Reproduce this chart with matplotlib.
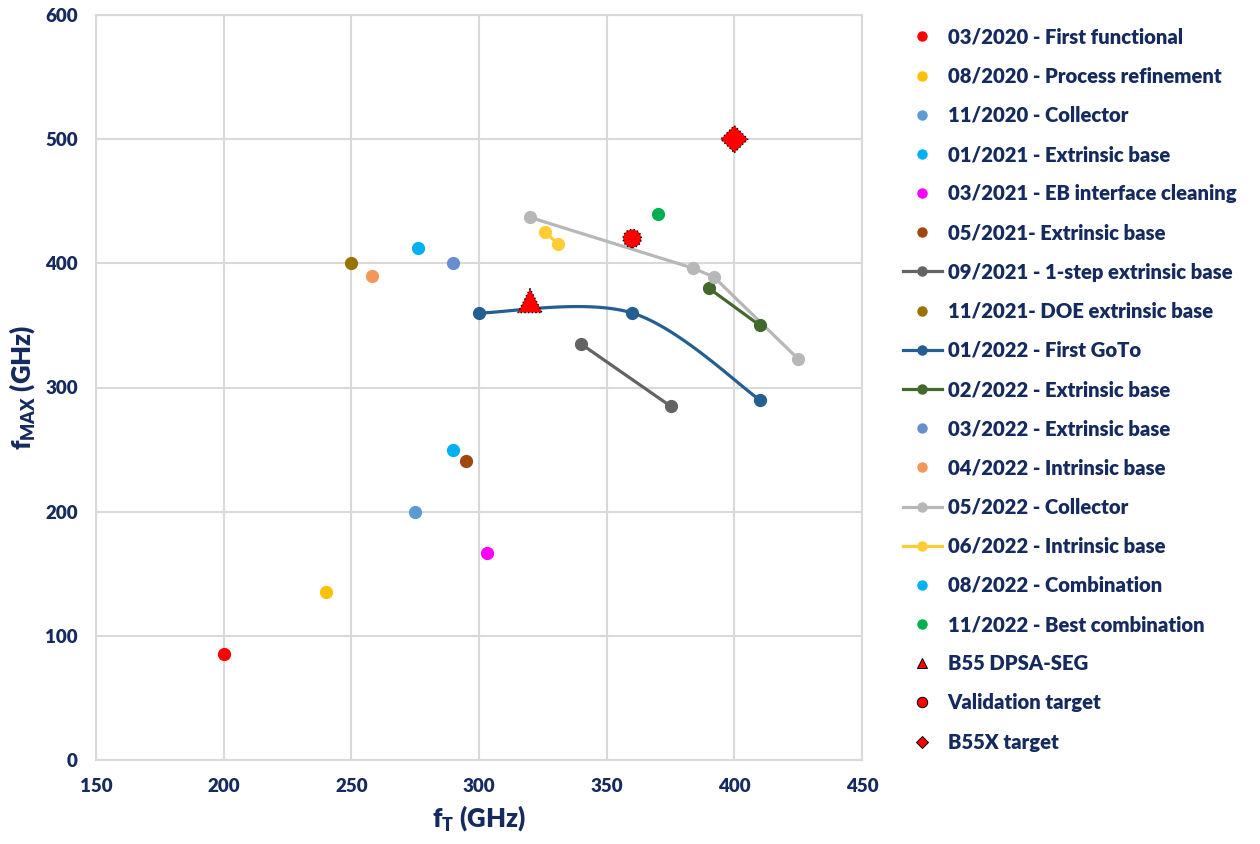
import numpy as np
import matplotlib
matplotlib.use("Agg")
import matplotlib.pyplot as plt
from matplotlib.lines import Line2D

plt.rcParams['font.family'] = ['Lato', 'DejaVu Sans']
plt.rcParams['font.weight'] = 'heavy'
plt.rcParams['mathtext.fontset'] = 'custom'
plt.rcParams['mathtext.rm'] = 'Lato:heavy'
plt.rcParams['mathtext.bf'] = 'Lato:heavy'
plt.rcParams['mathtext.it'] = 'Lato:heavy'

navy = '#152a5f'

# Datos por serie
labels = ['03/2020 - First functional', '08/2020 - Process refinement', '11/2020 - Collector',
          '01/2021 - Extrinsic base', '03/2021 - EB interface cleaning', '05/2021- Extrinsic base',
          '09/2021 - 1-step extrinsic base', '11/2021- DOE extrinsic base', '01/2022 - First GoTo',
          '02/2022 - Extrinsic base', '03/2022 - Extrinsic base', '04/2022 - Intrinsic base',
          '05/2022 - Collector', '06/2022 - Intrinsic base', '08/2022 - Combination',
          '11/2022 - Best combination']
colors = ['#ff0000', '#ffc000', '#5b9bd5', '#00b0f0', '#ff00ff', '#9e480e', '#636363', '#997300',
          '#255e91', '#43682b', '#698ed0', '#f1975a', '#b7b7b7', '#ffcd33', '#00b0f0', '#00b050']
ft_vals = [[200], [240], [275], [290], [303], [295], [340, 375], [250],
           [300, 360, 410], [390, 410], [290], [258], [320, 384, 392, 425], [326, 331], [276], [370]]
fmax_vals = [[85], [135], [200], [250], [167], [241], [335, 285], [400],
             [360, 360, 290], [380, 350], [400], [390], [437, 396, 389, 323], [425, 415.5], [412], [440]]
has_line = [False, False, False, False, False, False, True, False,
            True, True, False, False, True, True, False, False]
smooth = [False] * 16
smooth[8] = True

# Objetivos
target_labels = ['B55 DPSA-SEG', 'Validation target', 'B55X target']
target_ft = [320, 360, 400]
target_fmax = [370, 420, 500]
target_markers = ['^', 'o', 'D']
target_sizes = [300, 170, 190]


def curva_suave(x, y, n=60):
    # Bezier tipo Excel (Catmull-Rom) en coordenadas de pixel aproximadas
    sx, sy = 766 / 300.0, 745 / 600.0
    P = np.column_stack([np.array(x) * sx, np.array(y) * sy])
    P = np.vstack([P[0], P, P[-1]])
    out = []
    for i in range(1, len(P) - 2):
        p0, p1, p2, p3 = P[i - 1], P[i], P[i + 1], P[i + 2]
        c1 = p1 + (p2 - p0) / 6
        c2 = p2 - (p3 - p1) / 6
        t = np.linspace(0, 1, n)[:, None]
        seg = (1 - t) ** 3 * p1 + 3 * (1 - t) ** 2 * t * c1 + 3 * (1 - t) * t ** 2 * c2 + t ** 3 * p2
        out.append(seg)
    out = np.vstack(out)
    return out[:, 0] / sx, out[:, 1] / sy


fig = plt.figure(figsize=(12.6, 8.44), dpi=100)
ax = fig.add_axes([96 / 1260, 1 - 760 / 844, 766 / 1260, 745 / 844])

handles = []
for lab, c, xs, ys, ln, sm in zip(labels, colors, ft_vals, fmax_vals, has_line, smooth):
    if ln:
        if sm:
            cx, cy = curva_suave(xs, ys)
            ax.plot(cx, cy, color=c, lw=2.3, zorder=3)
        else:
            ax.plot(xs, ys, color=c, lw=2.3, zorder=3)
    ax.plot(xs, ys, 'o', color=c, ms=8.5, mec=c, zorder=4)
    handles.append(Line2D([], [], color=c, lw=2.3 if ln else 0, marker='o', ms=6.5, mec=c))

for lab, x, y, m, s in zip(target_labels, target_ft, target_fmax, target_markers, target_sizes):
    ax.scatter([x], [y], s=s, marker=m, c='#ff0000', edgecolors='black', linewidths=1.0,
               linestyles=':', zorder=6)
    handles.append(Line2D([], [], color='#ff0000', lw=0, marker=m, ms=7.5 if m != 'D' else 6,
                          mec='black', mew=0.7))

ax.set_xlim(150, 450)
ax.set_ylim(0, 600)
ax.set_xticks(range(150, 451, 50))
ax.set_yticks(range(0, 601, 100))
ax.grid(True, color='#d9d9d9', lw=1.5, zorder=0)
ax.set_axisbelow(True)
for sp in ax.spines.values():
    sp.set_color('#d9d9d9')
    sp.set_linewidth(1.5)
ax.tick_params(length=0, labelsize=13.5, labelcolor=navy, pad=13)
for t in ax.get_xticklabels() + ax.get_yticklabels():
    t.set_fontweight('heavy')

ax.set_xlabel(r'f$_{\mathrm{T}}$ (GHz)', fontsize=18.5, color=navy, fontweight='heavy', labelpad=6)
ax.set_ylabel(r'f$_{\mathrm{MAX}}$ (GHz)', fontsize=18.5, color=navy, fontweight='heavy', labelpad=6)

leg = fig.legend(handles, labels + target_labels, loc='upper left',
                 bbox_to_anchor=(903 / 1260, 1 - 27.5 / 844), frameon=False,
                 fontsize=14.6, labelspacing=0.995, handlelength=1.9, handletextpad=0.3,
                 borderaxespad=0, borderpad=0)
for t in leg.get_texts():
    t.set_color(navy)
    t.set_fontweight('heavy')

fig.savefig('out.png', dpi=100)
